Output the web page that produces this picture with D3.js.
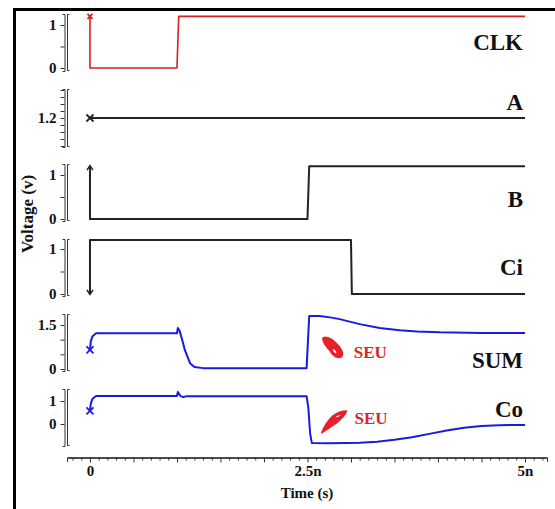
<!DOCTYPE html>
<html>
<head>
<meta charset="utf-8">
<script src="https://cdn.jsdelivr.net/npm/d3@7"></script>
<style>
body { margin: 0; background: #fff; }
text { font-family: "Liberation Serif", "Times New Roman", serif; font-weight: bold; }
</style>
</head>
<body>
<svg id="chart" width="555" height="509"></svg>
<script>
// traces: time in ns, voltage in V
var clkT = [0, 0, 1.0, 1.02, 5];
var clkV = [1.2, 0, 0, 1.2, 1.2];
var aT = [0, 5];
var aV = [1.2, 1.2];
var bT = [0, 0, 2.5, 2.52, 5];
var bV = [1.2, 0, 0, 1.2, 1.2];
var ciT = [0, 0, 3.0, 3.01, 5];
var ciV = [0, 1.2, 1.2, 0, 0];
var sumT = [0, 0.01, 0.03, 0.07, 1.0, 1.01, 1.03, 1.06, 1.09, 1.15, 1.2, 1.3, 2.49, 2.52, 2.64, 2.76, 2.87, 3.1, 3.33, 3.56, 3.76, 4.02, 4.5, 5];
var sumV = [0.65, 0.95, 1.12, 1.22, 1.22, 1.4, 1.3, 1.0, 0.65, 0.2, 0.07, 0.03, 0.03, 1.81, 1.81, 1.76, 1.7, 1.53, 1.4, 1.32, 1.28, 1.25, 1.23, 1.23];
var coT = [0, 0.01, 0.03, 0.07, 1.0, 1.01, 1.04, 1.07, 1.11, 2.49, 2.51, 2.53, 2.55, 2.76, 3.1, 3.3, 3.5, 3.7, 3.9, 4.1, 4.3, 4.5, 4.7, 5];
var coV = [0.57, 0.9, 1.1, 1.22, 1.22, 1.39, 1.22, 1.17, 1.21, 1.21, 0.7, -0.4, -0.83, -0.84, -0.82, -0.77, -0.69, -0.58, -0.43, -0.28, -0.16, -0.09, -0.05, -0.04];

var names = ['CLK', 'A', 'B', 'Ci', 'SUM', 'Co'];
var timeTicks = [0, 2.5, 5];
var timeLabels = ['0', '2.5n', '5n'];
var seuT = [2.79, 2.8];
var seuV = [0.75, 0.09];

var svg = d3.select('#chart');
var x = d3.scaleLinear().domain([-0.264, 5.253]).range([67, 547]);

var dA = 0.0001;
var panels = [
    { t: clkT, v: clkV, top: 14, bottom: 71, dom: [-0.07, 1.256], ticks: [0, 0.5, 1], labels: [0, 1], fmt: d3.format('d'), color: '#d42020', width: 1.6, mark: 'x', ly: 50 },
    { t: aT, v: aV, top: 89, bottom: 147, dom: [1.2 - 4.15 * dA, 1.2 + 4.15 * dA], ticks: d3.range(-4, 5).map(function(k) { return 1.2 + k * dA; }), labels: [1.2], fmt: d3.format('.1f'), color: '#222', width: 2, mark: 'x', ly: 110 },
    { t: bT, v: bV, top: 164, bottom: 221, dom: [-0.045, 1.25], ticks: [0, 0.5, 1], labels: [0, 1], fmt: d3.format('d'), color: '#222', width: 2, mark: 'arrow', ly: 207 },
    { t: ciT, v: ciV, top: 239, bottom: 296, dom: [-0.044, 1.222], ticks: [0, 0.5, 1], labels: [0, 1], fmt: d3.format('d'), color: '#222', width: 2, mark: 'arrow', ly: 275 },
    { t: sumT, v: sumV, top: 314, bottom: 371, dom: [-0.068, 1.875], ticks: [0, 0.5, 1, 1.5], labels: [0, 1.5], fmt: d3.format('.1~f'), color: '#1a1ae0', width: 2, mark: 'x', ly: 368 },
    { t: coT, v: coV, top: 389, bottom: 446, dom: [-0.957, 1.522], ticks: [0, 1], labels: [0, 1], fmt: d3.format('d'), color: '#1a1ae0', width: 2, mark: 'x', ly: 417 }
];

// frame
svg.append('path')
    .attr('d', 'M14.5,509 V9.5 H555')
    .attr('fill', 'none').attr('stroke', '#000').attr('stroke-width', 3);

panels.forEach(function(p, i) {
    var y = d3.scaleLinear().domain(p.dom).range([p.bottom, p.top]);
    p.y = y;
    var isLabel = function(d) {
        return p.labels.some(function(l) { return Math.abs(l - d) < 1e-9; });
    };
    var yAxis = d3.axisLeft(y).tickValues(p.ticks).tickSize(4).tickSizeOuter(2)
        .tickFormat(function(d) { return isLabel(d) ? p.fmt(d) : ''; });
    var g = svg.append('g').attr('transform', 'translate(64.5,0)').call(yAxis);
    g.selectAll('path, line').attr('stroke', '#333');
    g.selectAll('text').attr('font-family', null).attr('font-size', 15).attr('fill', '#111').attr('x', -8);
    // second bracket line
    svg.append('path')
        .attr('d', 'M69.5,' + (p.top + 0.5) + ' H67.5 V' + (p.bottom - 0.5) + ' H69.5')
        .attr('fill', 'none').attr('stroke', '#333').attr('stroke-width', 1);

    var pts = p.t.map(function(t, k) { return [t, p.v[k]]; });
    var line = d3.line().x(function(d) { return x(d[0]); }).y(function(d) { return y(d[1]); });
    svg.append('path')
        .attr('d', line(pts))
        .attr('fill', 'none').attr('stroke', p.color).attr('stroke-width', p.width)
        .attr('stroke-linejoin', 'round');

    // start marker
    var mx = x(pts[0][0]), my = y(pts[0][1]);
    if (p.mark === 'x') {
        var s = i === 0 ? 2.5 : 3.5;
        svg.append('path')
            .attr('d', 'M' + (mx - s) + ',' + (my - s) + 'L' + (mx + s) + ',' + (my + s) + 'M' + (mx - s) + ',' + (my + s) + 'L' + (mx + s) + ',' + (my - s))
            .attr('stroke', p.color).attr('stroke-width', 1.8);
    } else {
        var dir = pts[1][1] < pts[0][1] ? 1 : -1;
        svg.append('path')
            .attr('d', 'M' + (mx - 3) + ',' + (my + dir * 4) + 'L' + mx + ',' + (my - dir * 0.5) + 'L' + (mx + 3) + ',' + (my + dir * 4))
            .attr('fill', 'none').attr('stroke', p.color).attr('stroke-width', 1.5);
    }

    svg.append('text')
        .attr('x', 523).attr('y', p.ly)
        .attr('text-anchor', 'end').attr('font-size', 23).attr('fill', '#111')
        .text(names[i]);
});

// SEU annotations (hand-drawn loops)
var scribbles = [
    'M-10,-9 C-5,-12 2,-6 7,0 C10,4 11,7 9,10 C5,12 0,9 -2,5 C-5,1 -10,-3 -10,-9 Z M0,1 C3,2 5,5 4,7 C1,7 -1,4 0,1 Z',
    'M-12,11 C-10,5 -6,-1 -1,-6 C3,-9 8,-11 13,-11 C12,-7 8,-3 3,1 C-2,4 -7,8 -12,11 Z M1,-5 C4,-7 7,-8 8,-7 C6,-5 3,-3 1,-5 Z'
];
seuT.forEach(function(t, k) {
    var y = panels[4 + k].y;
    var cx = x(t), cy = y(seuV[k]);
    svg.append('path')
        .attr('d', scribbles[k])
        .attr('transform', 'translate(' + cx + ',' + cy + ')')
        .attr('fill', '#e8202a').attr('fill-rule', 'evenodd')
        .attr('stroke', '#e8202a').attr('stroke-width', 1.2).attr('stroke-linejoin', 'round');
    svg.append('text')
        .attr('x', cx + 21).attr('y', cy + (k === 0 ? 11 : 2))
        .attr('font-size', 17).attr('fill', '#d42828')
        .text('SEU');
});

// time axis
var axisY = 457.5;
var minor = d3.range(-2, 53).map(function(k) { return k / 10; }).filter(function(d) { return Math.abs(d * 2 - Math.round(d * 2)) > 1e-6; });
var mid = d3.range(0, 11).map(function(k) { return k / 2; }).filter(function(d) { return timeTicks.indexOf(d) < 0; });
var gMinor = svg.append('g').attr('transform', 'translate(0,' + axisY + ')')
    .call(d3.axisBottom(x).tickValues(minor).tickSize(3).tickSizeOuter(4).tickFormat(''));
var gMid = svg.append('g').attr('transform', 'translate(0,' + axisY + ')')
    .call(d3.axisBottom(x).tickValues(mid).tickSize(5).tickSizeOuter(4).tickFormat(''));
var gMajor = svg.append('g').attr('transform', 'translate(0,' + axisY + ')')
    .call(d3.axisBottom(x).tickValues(timeTicks).tickSize(5).tickSizeOuter(4)
        .tickFormat(function(d, k) { return timeLabels[k]; }));
[gMinor, gMid, gMajor].forEach(function(g) { g.selectAll('path, line').attr('stroke', '#333'); });
gMajor.selectAll('text').attr('font-family', null).attr('font-size', 15).attr('fill', '#111').attr('y', 8);

svg.append('text')
    .attr('x', 307).attr('y', 498)
    .attr('text-anchor', 'middle').attr('font-size', 15).attr('fill', '#111')
    .text('Time (s)');

svg.append('text')
    .attr('transform', 'translate(33,214) rotate(-90)')
    .attr('text-anchor', 'middle').attr('font-size', 17).attr('fill', '#111')
    .text('Voltage (v)');
</script>
</body>
</html>
